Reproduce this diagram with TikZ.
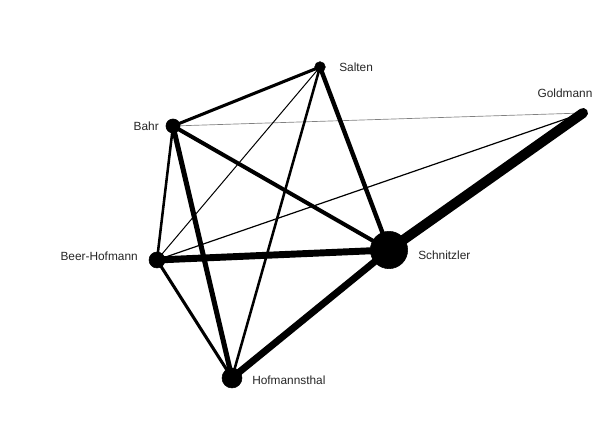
\documentclass[tikz,border=0pt]{standalone}
\usepackage{fontspec}
\setmainfont{Liberation Sans}
\tikzset{
    tie/.style={line width=#1, line cap=round},
    personlabel/.style={font=\fontsize{8.9}{10}\selectfont, text=black!85, inner sep=0pt}
}
\begin{document}
\begin{tikzpicture}[x=0.75pt, y=-0.75pt]
    \useasboundingbox (0,0) rectangle (600,427);
    % persons
    \coordinate (salten) at (320,67);  \coordinate (goldmann) at (583,113);
    \coordinate (bahr) at (173,126);   \coordinate (beer) at (157,260);
    \coordinate (schnitzler) at (389,250); \coordinate (hofm) at (232,378);

    % ties (weighted)
    \draw[tie=0.5pt, gray] (bahr)--(goldmann);
    \draw[tie=0.75pt] (salten)--(beer);
    \draw[tie=0.9pt] (beer)--(goldmann);
    \draw[tie=1.9pt] (bahr)--(beer); \draw[tie=1.9pt] (salten)--(hofm);
    \draw[tie=2.3pt] (bahr)--(salten); \draw[tie=2.3pt] (beer)--(hofm);
    \draw[tie=3pt] (bahr)--(schnitzler); \draw[tie=3.3pt] (salten)--(schnitzler);
    \draw[tie=3.8pt] (bahr)--(hofm);
    \draw[tie=5.2pt] (beer)--(schnitzler); \draw[tie=5.2pt] (schnitzler)--(hofm);
    \draw[tie=7.5pt] (schnitzler)--(goldmann);

    % dots
    \filldraw (salten) circle (4pt); \filldraw (goldmann) circle (3pt);
    \filldraw (bahr) circle (5.3pt); \filldraw (beer) circle (6pt);
    \filldraw (schnitzler) circle (14pt); \filldraw (hofm) circle (7.5pt);

    % labels
    \node[personlabel, anchor=west] (lsalten) at (339,67) {Salten};
    \node[personlabel, anchor=east] (lbahr) at (159,126) {Bahr};
    \node[personlabel, anchor=east] (lbeer) at (138,256) {Beer-Hofmann};
    \node[personlabel, anchor=west] (lschnitzler) at (418,255) {Schnitzler};
    \node[personlabel, anchor=west] (lhofm) at (252,380) {Hofmannsthal};
    \node[personlabel] (lgoldmann) at (565,93) {Goldmann};
\end{tikzpicture}
\end{document}
